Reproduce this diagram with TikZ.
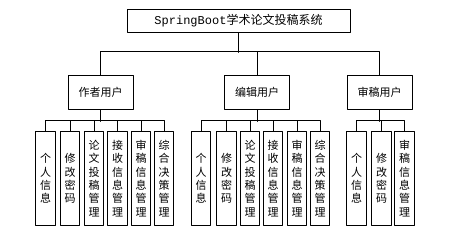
\documentclass[tikz,border=0pt]{standalone}
\usepackage{fontspec}
\setmainfont{Noto Sans CJK SC}
\setmonofont{Liberation Mono}

\begin{document}
\begin{tikzpicture}[x=1pt,y=-1pt,line cap=round,line join=round,line width=0.8pt,
  box/.style={draw,inner sep=0pt,font=\fontsize{11}{13.3}\selectfont},
  userbox/.style={box,minimum width=65pt,minimum height=34pt},
  leaf/.style={box,minimum width=19.5pt,minimum height=94pt,align=center}]
  \useasboundingbox (0,0) rectangle (469,239);
  % top and user level
  \node[box,minimum width=223pt,minimum height=23pt,font=\fontsize{12}{14}\selectfont] (sys) at (238.5,20.5) {\texttt{SpringBoot}学术论文投稿系统};
  \node[userbox] (author) at (100.5,92) {作者用户};
  \node[userbox] (editor) at (257,92) {编辑用户};
  \node[userbox] (reviewer) at (379.5,92) {审稿用户};
  \draw (sys.south) -- ++(0,20);
  \draw (author.north) -- ++(0,-23) -| (reviewer.north);
  \draw (editor.north) -- ++(0,-23);
  % leaves
  \foreach \x/\t [count=\i] in {45.5/{个\\人\\信\\息},70/{修\\改\\密\\码},94/{论\\文\\投\\稿\\管\\理},
      117.5/{接\\收\\信\\息\\管\\理},141/{审\\稿\\信\\息\\管\\理},164/{综\\合\\决\\策\\管\\理}}
    \node[leaf] (a\i) at (\x,178.5) {\t};
  \foreach \x/\t [count=\i] in {201/{个\\人\\信\\息},226.5/{修\\改\\密\\码},250/{论\\文\\投\\稿\\管\\理},
      273/{接\\收\\信\\息\\管\\理},297/{审\\稿\\信\\息\\管\\理},320/{综\\合\\决\\策\\管\\理}}
    \node[leaf] (e\i) at (\x,178.5) {\t};
  \foreach \x/\t [count=\i] in {356.5/{个\\人\\信\\息},381.5/{修\\改\\密\\码},404.5/{审\\稿\\信\\息\\管\\理}}
    \node[leaf] (r\i) at (\x,178.5) {\t};
  % leaf connectors
  \draw (author.south) -- ++(0,12);
  \draw (a1.north) -- ++(0,-10.5) -| (a6.north);
  \foreach \i in {2,...,5} \draw (a\i.north) -- ++(0,-10.5);
  \draw (editor.south) -- ++(0,12);
  \draw (e1.north) -- ++(0,-10.5) -| (e6.north);
  \foreach \i in {2,...,5} \draw (e\i.north) -- ++(0,-10.5);
  \draw (reviewer.south) -- ++(0,12);
  \draw (r1.north) -- ++(0,-10.5) -| (r3.north);
  \draw (r2.north) -- ++(0,-10.5);
\end{tikzpicture}
\end{document}
